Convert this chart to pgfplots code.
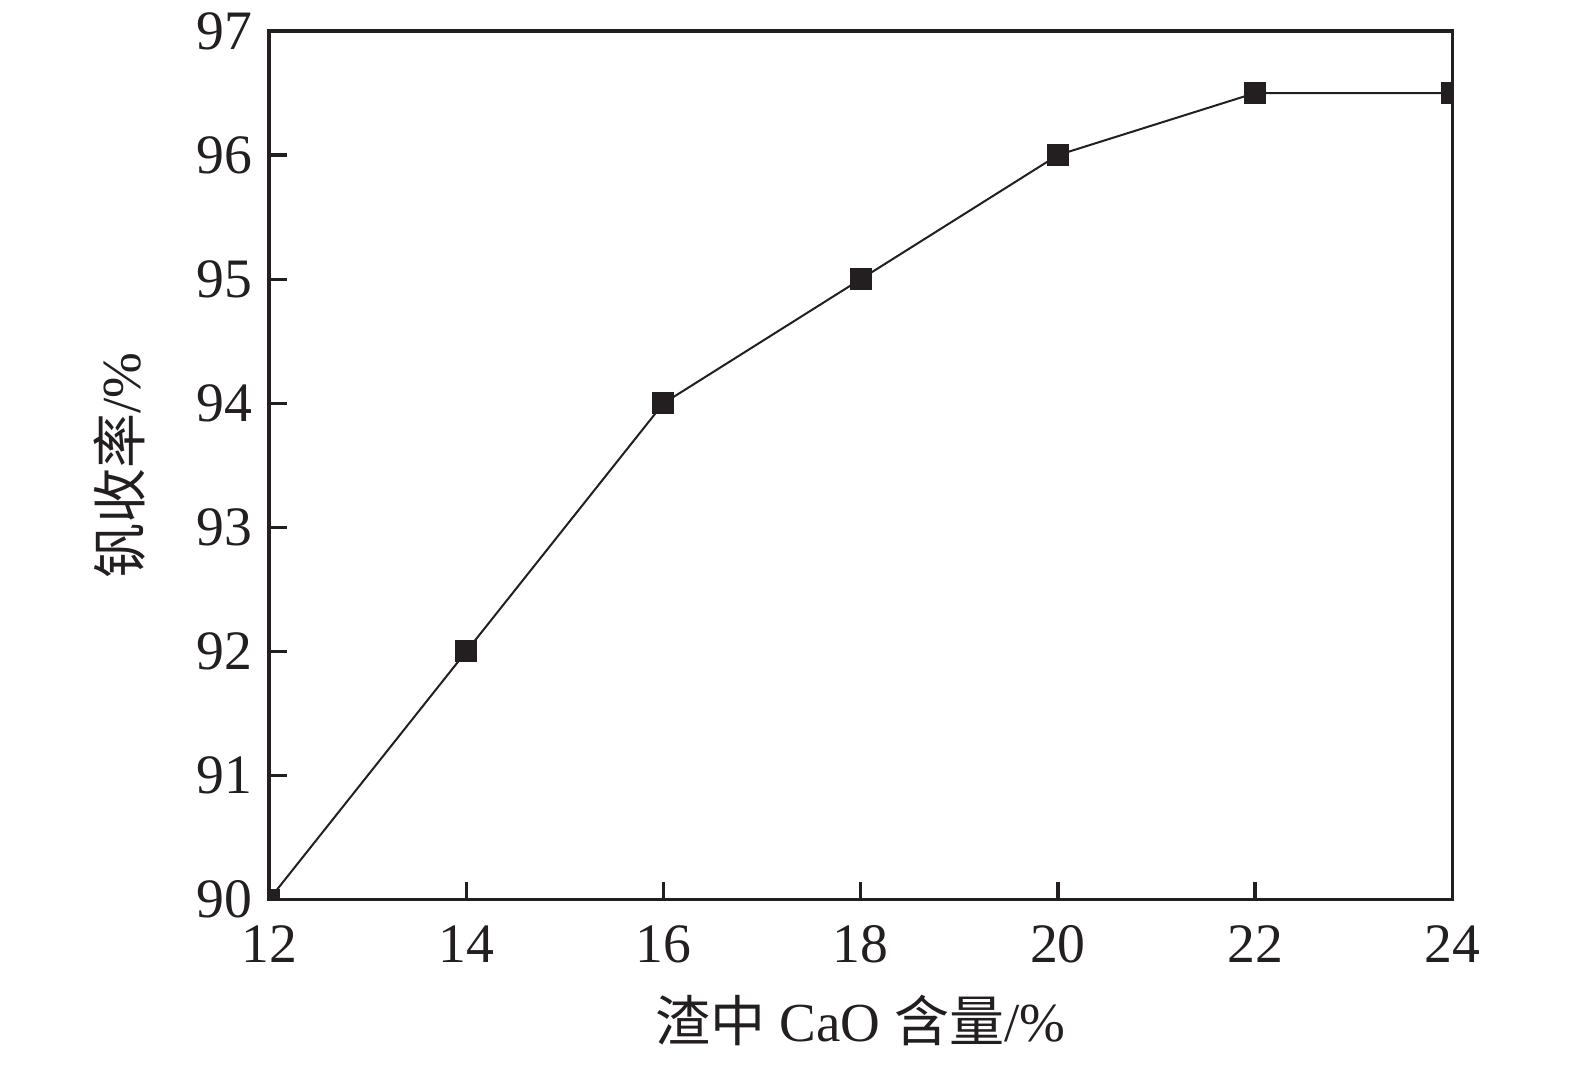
\documentclass[border=0pt]{standalone}
\usepackage{pgfplots}
\pgfplotsset{compat=1.18}
\usepackage{fontspec}
\setmainfont{Liberation Serif}
\newfontfamily\cjk{Noto Sans CJK SC}
\definecolor{ink}{HTML}{231F20}
\begin{document}
\begin{tikzpicture}
\begin{axis}[
  name=ax,
  scale only axis,
  width=355pt, height=260.6pt,
  xmin=12, xmax=24, ymin=90, ymax=97,
  xtick={12,14,...,24}, ytick={90,91,...,97},
  tick pos=left, tick align=inside,
  major tick length=5.4pt,
  axis line style={line width=1pt, ink},
  every tick/.style={line width=1pt, ink},
  /pgf/number format/assume math mode=true,
  ticklabel style={font=\fontsize{16.7}{18}\selectfont, text=ink},
  xticklabel style={yshift=-4.3pt},
  yticklabel style={xshift=-1.5pt},
  clip marker paths=true,
  xlabel={{\cjk 渣中} CaO {\cjk 含量}/\%},
  ylabel={{\cjk 钒收率}/\%},
  label style={font=\fontsize{16.5}{18}\selectfont, text=ink},
  xlabel style={at={(axis description cs:0.5,-0.1394)}, anchor=center},
  ylabel style={at={(axis description cs:-0.126,0.5)}, anchor=center},
]
\addplot[ink, line width=0.6pt, mark=square*, mark size=3pt, mark options={fill=ink, draw=ink}]
  coordinates {(12,90) (14,92) (16,94) (18,95) (20,96) (22,96.5) (24,96.5)};
\end{axis}
\pgfresetboundingbox
\path ([shift={(-80.7pt,-49.6pt)}]ax.south west) rectangle ([shift={(36.8pt,9.3pt)}]ax.north east);
\end{tikzpicture}
\end{document}
